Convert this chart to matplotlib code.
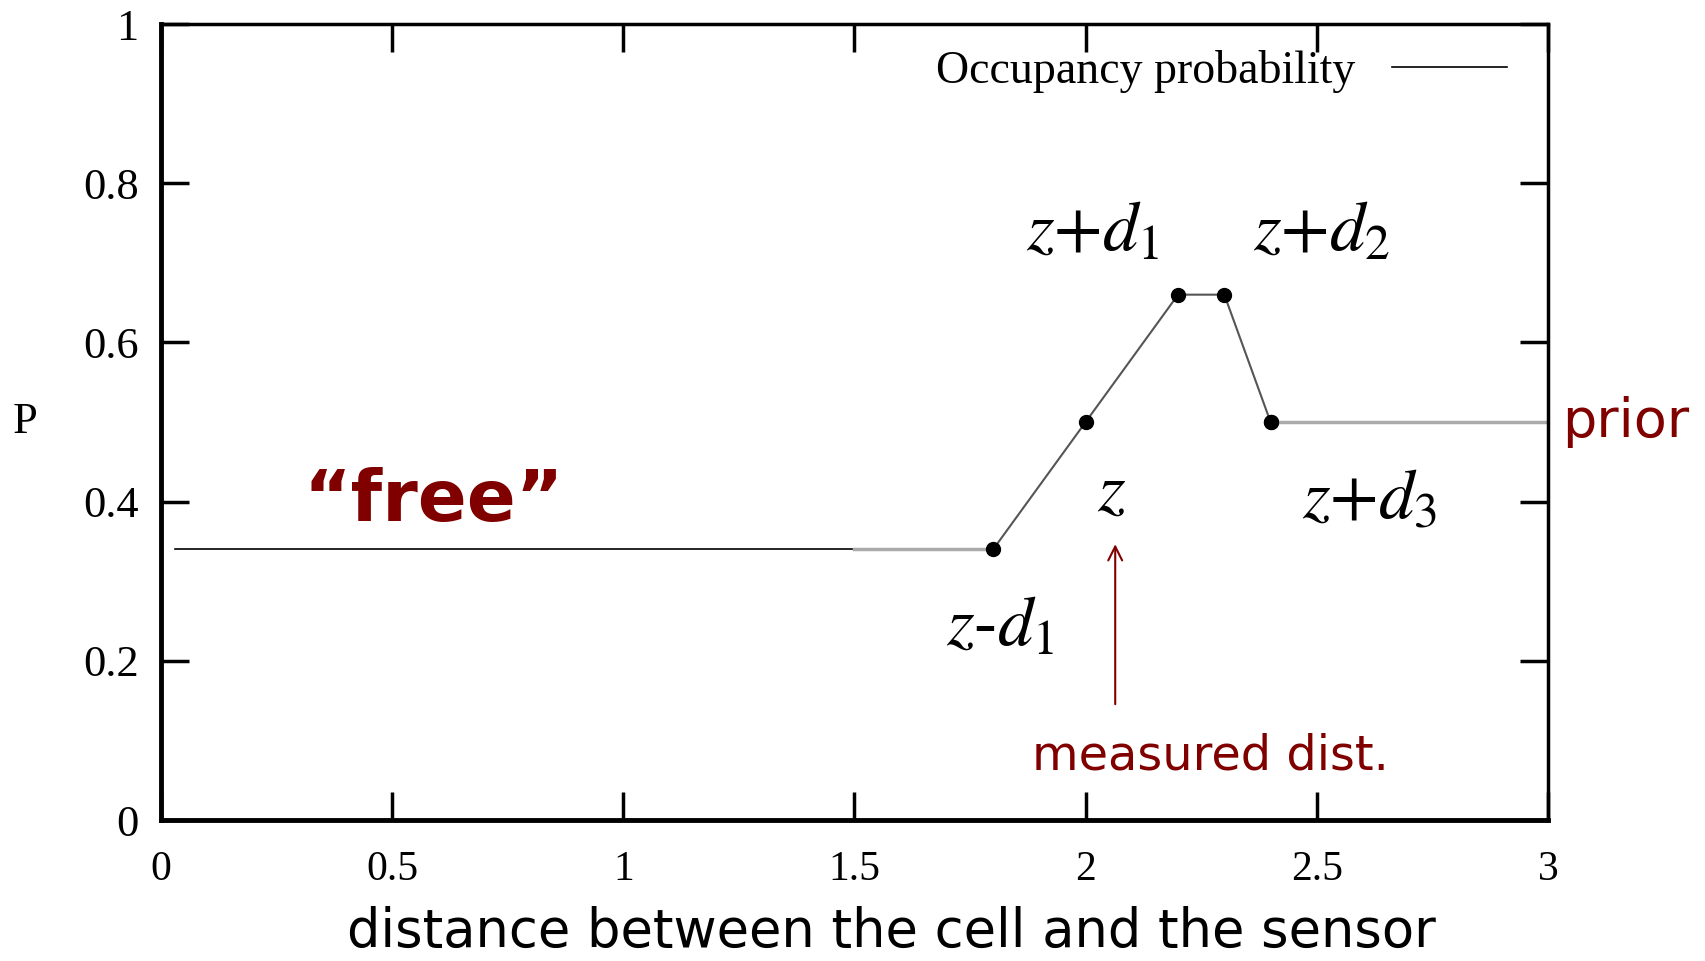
import matplotlib
matplotlib.use('Agg')
from matplotlib import pyplot as plt

# occupancy probability along the beam
free_x = [0.03, 1.5]
free_y = [0.34, 0.34]
gap_x = [1.5, 1.8]
gap_y = [0.34, 0.34]
curve_x = [1.8, 2.0, 2.2, 2.3, 2.4]
curve_y = [0.34, 0.5, 0.66, 0.66, 0.5]
prior_x = [2.4, 3.0]
prior_y = [0.5, 0.5]

x_ticks = [0, 0.5, 1, 1.5, 2, 2.5, 3]
x_tick_labels = ['0', '0.5', '1', '1.5', '2', '2.5', '3']
y_ticks = [0, 0.2, 0.4, 0.6, 0.8, 1]
y_tick_labels = ['0', '0.2', '0.4', '0.6', '0.8', '1']

point_labels = [r'$z$-$d_1$', r'$z$', r'$z$+$d_1$', r'$z$+$d_2$', r'$z$+$d_3$']
point_label_x = [1.815, 2.055, 2.015, 2.51, 2.615]
point_label_y = [0.24, 0.41, 0.736, 0.736, 0.40]

dark_red = '#800000'
serif = 'Liberation Serif'
plt.rcParams['mathtext.fontset'] = 'stix'

fig = plt.figure(figsize=(17.05, 9.61), dpi=100)
ax = fig.add_axes([0.0944, 0.1467, 0.8135, 0.8283])

ax.plot(free_x, free_y, color='black', lw=1.2, label='Occupancy probability')
ax.plot(gap_x, gap_y, color='#aaaaaa', lw=2.5)
ax.plot(curve_x, curve_y, color='#555555', lw=1.5, marker='o', ms=10,
        mfc='black', mec='black')
ax.plot(prior_x, prior_y, color='#aaaaaa', lw=2.5)
ax.plot(prior_x[:1], prior_y[:1], 'o', color='black', ms=10)

ax.set_xlim(0, 3)
ax.set_ylim(0, 1)
ax.set_xticks(x_ticks)
ax.set_xticklabels(x_tick_labels, family=serif, fontsize=30)
ax.set_yticks(y_ticks)
ax.set_yticklabels(y_tick_labels, family=serif, fontsize=32)
ax.tick_params(direction='in', length=20, width=2.5, top=True, right=True)
ax.tick_params(axis='x', pad=22)
ax.tick_params(axis='y', pad=16)
for s in ax.spines.values():
    s.set_linewidth(2.5)
ax.spines['left'].set_linewidth(3.5)
ax.spines['bottom'].set_linewidth(3.5)

ax.set_xlabel('distance between the cell and the sensor', family='DejaVu Sans',
              fontsize=38)
ax.xaxis.set_label_coords(0.527, -0.108)
ax.set_ylabel('P', family=serif, fontsize=32, rotation=0, labelpad=42, va='center')

leg = ax.legend(loc='upper right', frameon=False, markerfirst=False,
                prop={'family': serif, 'size': 33}, handlelength=2.5,
                bbox_to_anchor=(1.0, 1.019))

for lab, lx, ly in zip(point_labels, point_label_x, point_label_y):
    ax.text(lx, ly, lab, fontsize=51, family='STIXGeneral', ha='center', va='center')

ax.text(0.59, 0.40, '\u201cfree\u201d', color=dark_red, fontsize=52,
        fontweight='bold', family='DejaVu Sans', ha='center', va='center')
ax.text(3.03, 0.5, 'prior', color=dark_red, fontsize=39, family='DejaVu Sans',
        ha='left', va='center', clip_on=False)
ax.text(2.27, 0.08, 'measured dist.', color=dark_red, fontsize=34.5,
        family='DejaVu Sans', ha='center', va='center')
ax.annotate('', xy=(2.064, 0.35), xytext=(2.064, 0.142),
            arrowprops=dict(arrowstyle='->', color=dark_red, lw=1.5,
                            mutation_scale=25))

fig.savefig('out.png', dpi=100)
